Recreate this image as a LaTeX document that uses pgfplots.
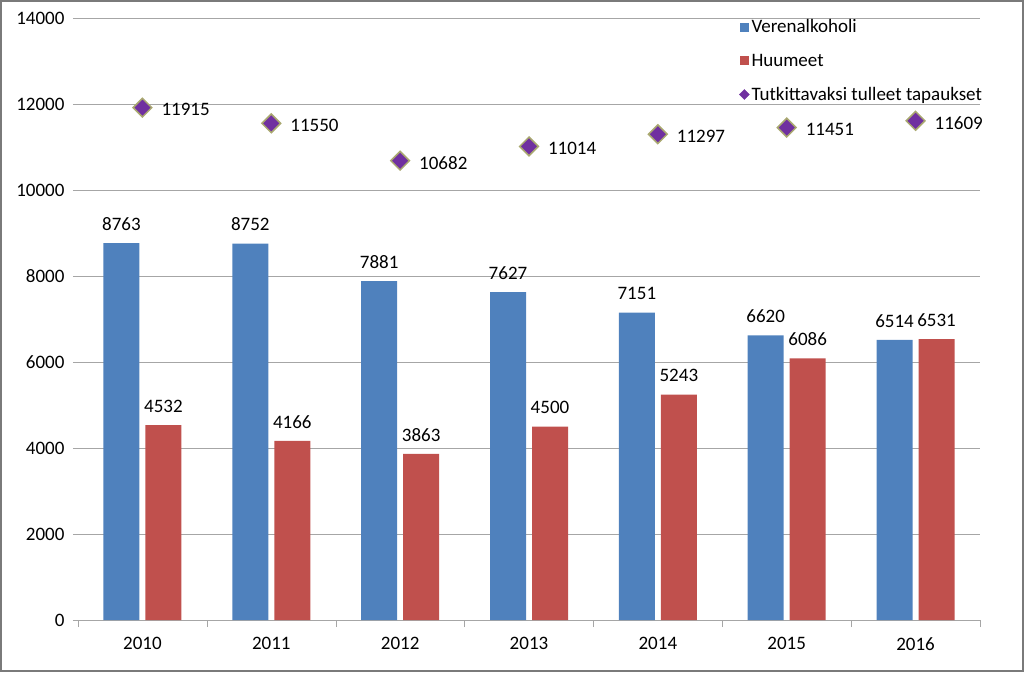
\documentclass[border=0pt]{standalone}
\usepackage{pgfplots}
\pgfplotsset{compat=1.18}
\usepackage{fontspec}
\setmainfont{Carlito}

\definecolor{veri}{HTML}{4F81BD}
\definecolor{huume}{HTML}{C0504D}
\definecolor{tutk}{HTML}{7030A0}
\definecolor{tutkedge}{HTML}{A9A870}
\definecolor{gridc}{HTML}{A6A6A6}
\definecolor{framec}{HTML}{7A7A7A}

\begin{document}
\begin{tikzpicture}[font=\fontsize{19}{23}\selectfont]
\begin{axis}[
  at={(0pt,0pt)}, anchor=south west,
  scale only axis, width=902pt, height=602pt,
  xmin=-0.5, xmax=6.5, ymin=0, ymax=14000,
  xtick={0,...,6},
  xticklabels={2010,2011,2012,2013,2014,2015,2016},
  minor xtick={-0.5,0.5,...,6.5},
  ytick={0,2000,...,14000},
  axis lines*=left,
  y axis line style={draw=none},
  x axis line style={-, draw=gridc},
  tick align=outside,
  major tick length=5pt, minor tick length=7pt,
  major x tick style={draw=none},
  minor x tick style={draw=gridc},
  ytick style={draw=gridc},
  ymajorgrids, grid style={gridc, line width=0.8pt},
  scaled y ticks=false,
  /pgf/number format/1000 sep={},
  /pgf/number format/assume math mode=true,
  tick label style={black},
  xticklabel style={yshift=-9pt},
  yticklabel style={xshift=-5pt},
  legend style={at={(0.7305,1.004)}, anchor=north west, draw=none, fill=none,
    inner sep=2pt, row sep=15.5pt, font=\fontsize{19}{23}\selectfont,
    nodes={inner sep=2pt}},
  legend cell align=left,
]
\addplot[ybar, bar width=36pt, bar shift=-21pt, fill=veri, draw=none,
  nodes near coords, nodes near coords style={anchor=south, xshift=-21pt, yshift=9pt, black},
  legend image code/.code={\fill[veri] (0pt,-4.5pt) rectangle (9pt,4.5pt);}]
  coordinates {(0,8763) (1,8752) (2,7881) (3,7627) (4,7151) (5,6620) (6,6514)};
\addlegendentry{Verenalkoholi}
\addplot[ybar, bar width=36pt, bar shift=21pt, fill=huume, draw=none,
  nodes near coords, nodes near coords style={anchor=south, xshift=21pt, yshift=9pt, black},
  legend image code/.code={\fill[huume] (0pt,-4.5pt) rectangle (9pt,4.5pt);}]
  coordinates {(0,4532) (1,4166) (2,3863) (3,4500) (4,5243) (5,6086) (6,6531)};
\addlegendentry{Huumeet}
\addplot[only marks, mark=square*, mark size=6.6pt,
  mark options={rotate=45, fill=tutk, draw=tutkedge, line width=1.5pt},
  nodes near coords, nodes near coords style={anchor=west, xshift=15pt, yshift=-2pt, black},
  legend image code/.code={\fill[tutk] (4.5pt,-5pt) -- (9.5pt,0pt) -- (4.5pt,5pt) -- (-0.5pt,0pt) -- cycle;}]
  coordinates {(0,11915) (1,11550) (2,10682) (3,11014) (4,11297) (5,11451) (6,11609)};
\addlegendentry{Tutkittavaksi tulleet tapaukset}
\end{axis}
\draw[framec, line width=2.5pt] (-76.75pt,-50.75pt) rectangle (944.75pt,618.75pt);
\pgfresetboundingbox
\useasboundingbox (-78pt,-52pt) rectangle (946pt,620pt);
\end{tikzpicture}
\end{document}
